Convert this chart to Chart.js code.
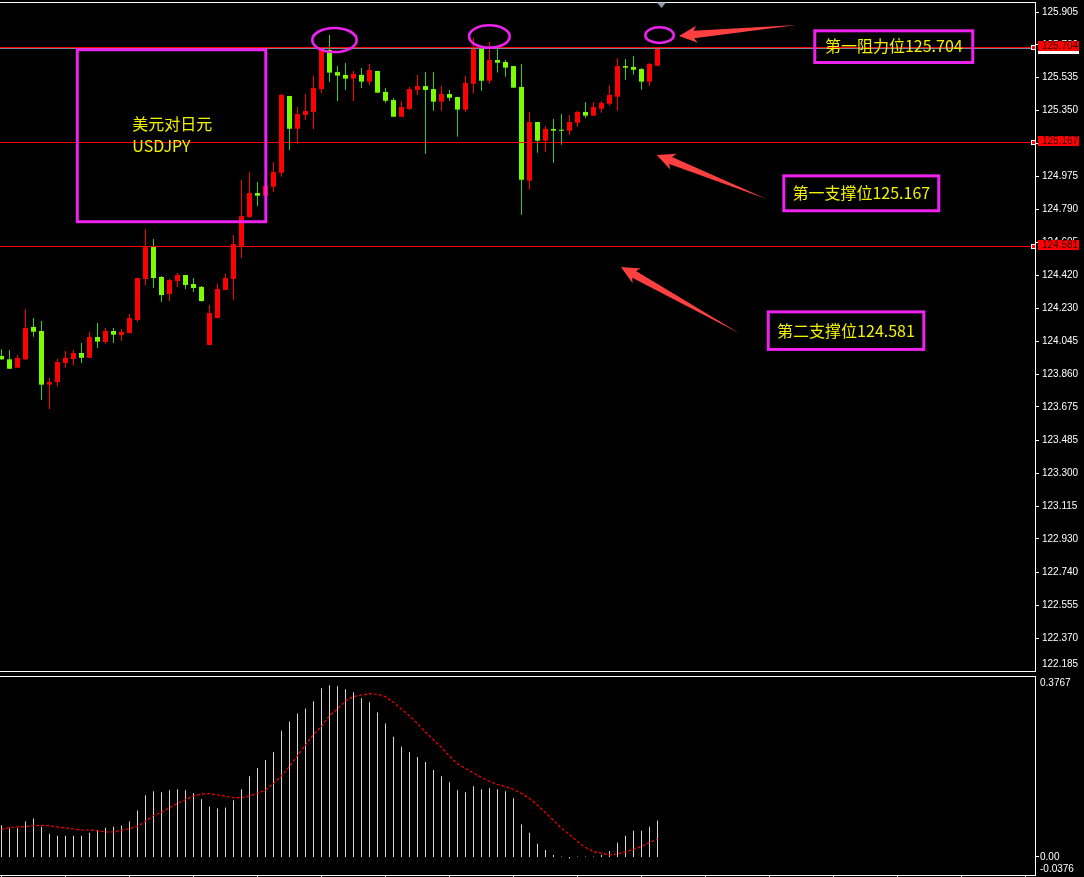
<!DOCTYPE html>
<html><head><meta charset="utf-8">
<script src="https://cdn.jsdelivr.net/npm/chart.js@4.4.0/dist/chart.umd.min.js"></script>
<style>
html,body{margin:0;padding:0;background:#000;overflow:hidden;}
#wrap{position:relative;width:1084px;height:877px;background:#000;}
#main{position:absolute;left:0;top:0;}
#sub{position:absolute;left:0;top:672px;}
</style></head><body>
<div id="wrap">
<canvas id="main" width="1084" height="672"></canvas>
<canvas id="sub" width="1084" height="205"></canvas>
</div>
<script>
// ---------------- data ----------------
const opens  = [123.963,123.944,123.897,123.944,124.127,124.104,123.801,123.816,123.923,123.946,123.980,123.953,124.070,124.042,124.104,124.081,124.093,124.166,124.398,124.578,124.409,124.313,124.386,124.420,124.369,124.353,124.025,124.177,124.336,124.398,124.584,124.748,124.883,124.868,124.919,124.998,125.431,125.246,125.324,125.341,125.470,125.691,125.566,125.550,125.529,125.550,125.512,125.572,125.454,125.408,125.314,125.358,125.465,125.487,125.470,125.399,125.442,125.425,125.354,125.500,125.702,125.517,125.634,125.623,125.600,125.482,124.953,125.284,125.179,125.245,125.239,125.235,125.280,125.341,125.320,125.359,125.387,125.427,125.600,125.595,125.583,125.512,125.602];
const highs  = [124.001,123.997,123.969,124.228,124.177,124.161,123.839,123.946,123.991,123.997,124.036,124.098,124.149,124.121,124.121,124.115,124.200,124.405,124.680,124.623,124.415,124.398,124.432,124.422,124.403,124.358,124.251,124.369,124.426,124.646,124.957,125.002,124.945,124.957,125.058,125.442,125.433,125.369,125.442,125.544,125.704,125.775,125.600,125.617,125.572,125.589,125.612,125.574,125.476,125.420,125.403,125.482,125.550,125.566,125.566,125.487,125.465,125.427,125.544,125.758,125.704,125.736,125.702,125.634,125.602,125.612,125.341,125.286,125.262,125.301,125.329,125.324,125.346,125.397,125.397,125.403,125.493,125.646,125.640,125.657,125.589,125.617,125.704];
const lows   = [123.940,123.889,123.895,123.940,124.072,123.714,123.664,123.790,123.897,123.908,123.923,123.952,124.008,124.032,124.036,124.048,124.091,124.155,124.364,124.347,124.268,124.273,124.353,124.341,124.324,124.271,124.023,124.175,124.334,124.279,124.516,124.742,124.810,124.861,124.889,124.975,125.126,125.162,125.295,125.245,125.448,125.510,125.403,125.465,125.403,125.476,125.493,125.448,125.393,125.312,125.312,125.352,125.437,125.103,125.348,125.348,125.404,125.201,125.342,125.444,125.461,125.500,125.563,125.540,125.476,124.761,124.902,125.111,125.116,125.054,125.156,125.212,125.258,125.308,125.318,125.337,125.376,125.348,125.523,125.551,125.466,125.489,125.600];
const closes = [123.944,123.891,123.952,124.121,124.100,123.801,123.816,123.929,123.952,123.980,123.953,124.070,124.044,124.104,124.083,124.098,124.177,124.403,124.578,124.403,124.307,124.392,124.420,124.364,124.347,124.273,124.206,124.341,124.403,124.595,124.753,124.883,124.868,124.924,125.002,125.437,125.246,125.329,125.346,125.476,125.702,125.563,125.546,125.529,125.555,125.512,125.578,125.450,125.404,125.314,125.369,125.470,125.487,125.465,125.399,125.442,125.421,125.354,125.504,125.708,125.517,125.634,125.619,125.591,125.478,124.958,125.284,125.179,125.245,125.235,125.235,125.284,125.341,125.320,125.369,125.391,125.437,125.600,125.591,125.579,125.512,125.612,125.698];

const macdHist = [0.0658,0.0595,0.0595,0.0736,0.0799,0.0631,0.0484,0.0442,0.0442,0.0442,0.0442,0.0505,0.0547,0.0610,0.0631,0.0652,0.0736,0.0967,0.1283,0.1367,0.1346,0.1388,0.1409,0.1388,0.1325,0.1199,0.1052,0.1009,0.1030,0.1178,0.1409,0.1682,0.1851,0.2019,0.2187,0.2629,0.2818,0.2986,0.3091,0.3239,0.3512,0.3575,0.3554,0.3491,0.3428,0.3302,0.3218,0.3007,0.2776,0.2503,0.2292,0.2187,0.2082,0.1977,0.1809,0.1682,0.1556,0.1388,0.1346,0.1472,0.1409,0.1430,0.1409,0.1367,0.1220,0.0673,0.0505,0.0273,0.0147,0.0042,0.0010,-0.0030,0.0010,0.0010,0.0010,0.0040,0.0126,0.0294,0.0442,0.0547,0.0547,0.0631,0.0757];
const macdSignal = [0.0574,0.0610,0.0624,0.0631,0.0652,0.0658,0.0645,0.0624,0.0603,0.0582,0.0561,0.0561,0.0547,0.0519,0.0519,0.0554,0.0589,0.0638,0.0743,0.0862,0.0932,0.1024,0.1115,0.1192,0.1269,0.1311,0.1318,0.1290,0.1262,0.1234,0.1234,0.1269,0.1325,0.1395,0.1529,0.1689,0.1886,0.2109,0.2334,0.2545,0.2719,0.2938,0.3084,0.3245,0.3337,0.3371,0.3401,0.3386,0.3337,0.3218,0.3077,0.2938,0.2776,0.2601,0.2440,0.2278,0.2097,0.1935,0.1844,0.1746,0.1655,0.1571,0.1508,0.1466,0.1409,0.1318,0.1220,0.1079,0.0919,0.0763,0.0595,0.0463,0.0322,0.0196,0.0111,0.0078,0.0042,0.0063,0.0105,0.0154,0.0217,0.0301,0.0372];

const priceTicks = [125.905,125.720,125.535,125.350,125.165,124.975,124.790,124.605,124.420,124.230,124.045,123.860,123.675,123.485,123.300,123.115,122.930,122.740,122.555,122.370,122.185];
const levelPrices = [125.704,125.167,124.581];
const levelTexts = ['第一阻力位125.704','第一支撑位125.167','第二支撑位124.581'];
const pairTitle = ['美元对日元','USDJPY'];
const subTicks = [0.3767,0,-0.0376];
const subTickLabels = ['0.3767','0.00','-0.0376'];

// ---------------- view ranges & annotation anchors (data units) ----------------
const X_MIN = -0.1875, X_MAX = 129.3125;
const Y_MIN = 122.1786, Y_MAX = 125.9617;
const SUB_MIN = -0.0376, SUB_MAX = 0.3767;

const titleBox = {k1:9.475, k2:33.04, p1:125.692, p2:124.721};
const titleAnchors = [{k:16.35, p:125.2717},{k:16.35, p:125.1486}];
const levelBoxes = [
  {k1:101.66,k2:121.41,p1:125.799,p2:125.620,tk:111.54,tp:125.712},
  {k1:97.79, k2:117.16,p1:124.980,p2:124.783,tk:107.48,tp:124.882},
  {k1:95.84, k2:115.29,p1:124.212,p2:124.000,tk:105.56,tp:124.106}
];
const ellipses = [
  {k1:38.85,k2:44.40,p1:125.815,p2:125.679},
  {k1:58.44,k2:63.53,p1:125.830,p2:125.704},
  {k1:80.48,k2:84.03,p1:125.819,p2:125.730}
];
const arrows = [
  {tk:84.69,tp:125.770,sk:99.40,sp:125.832},
  {tk:81.90,tp:125.098,sk:95.65,sp:124.849},
  {tk:77.44,tp:124.465,sk:92.23,sp:124.091}
];

// ---------------- styles ----------------
const UP = '#ff0000', DOWN_BODY = '#7cfc00', DOWN_WICK = '#32cd32';
const MAGENTA = '#ee22ee', YELLOW = '#f2f200', ARROW = '#ff4040';
const AXIS_FONT = '10px "Liberation Sans", Arial, sans-serif';
const CJK_FONT = '16px "Noto Sans CJK SC", "Noto Sans", sans-serif';

const crisp = v => Math.floor(v) + 0.5;
function seg(ctx,x1,y1,x2,y2){ctx.beginPath();ctx.moveTo(x1,y1);ctx.lineTo(x2,y2);ctx.stroke();}
function drawArrow(ctx,tx,ty,sx,sy){
  const dx=sx-tx, dy=sy-ty, L=Math.hypot(dx,dy), ux=dx/L, uy=dy/L, nx=-uy, ny=ux;
  const P=(u,v)=>[tx+ux*u+nx*v, ty+uy*u+ny*v];
  const pts=[P(0,0),P(18,-8.5),P(15,-3.8),P(L,0),P(15,3.8),P(18,8.5)];
  ctx.beginPath(); pts.forEach((p,i)=> i?ctx.lineTo(p[0],p[1]):ctx.moveTo(p[0],p[1])); ctx.closePath(); ctx.fill();
}

const isUp = i => closes[i] >= opens[i];
const idx = opens.map((_,i)=>i);
const wickData = idx.map(i=>({x:i, y:[lows[i], highs[i]]}));
const bodyData = idx.map(i=>({x:i, y:[Math.min(opens[i],closes[i]), Math.max(opens[i],closes[i])]}));
const wickColors = idx.map(i=> isUp(i)?UP:DOWN_WICK);
const bodyColors = idx.map(i=> isUp(i)?UP:DOWN_BODY);

const mainDeco = {
  id:'mainDeco',
  afterDatasetsDraw(chart){
    const {ctx, chartArea:a, scales:{x,y}} = chart;
    ctx.save();
    ctx.lineWidth = 1;
    ctx.strokeStyle = '#778899';
    const by = crisp(y.getPixelForValue(closes[closes.length-1]));
    seg(ctx,a.left,by,a.right,by);
    ctx.strokeStyle = '#ff0000';
    levelPrices.forEach(p=>{const ly=crisp(y.getPixelForValue(p)); seg(ctx,a.left,ly,a.right,ly);});

    ctx.strokeStyle = MAGENTA; ctx.lineWidth = 3;
    const rb = b => {const x1=x.getPixelForValue(b.k1), x2=x.getPixelForValue(b.k2), y1=y.getPixelForValue(b.p1), y2=y.getPixelForValue(b.p2); ctx.strokeRect(x1,y1,x2-x1,y2-y1);};
    rb(titleBox);
    levelBoxes.forEach(rb);
    ctx.fillStyle = YELLOW; ctx.font = CJK_FONT; ctx.textBaseline='middle';
    ctx.textAlign='left';
    pairTitle.forEach((t,i)=>ctx.fillText(t, x.getPixelForValue(titleAnchors[i].k), y.getPixelForValue(titleAnchors[i].p)));
    ctx.textAlign='center';
    levelBoxes.forEach((b,i)=>ctx.fillText(levelTexts[i], x.getPixelForValue(b.tk), y.getPixelForValue(b.tp)));

    ctx.lineWidth = 2.6; ctx.strokeStyle = MAGENTA;
    ellipses.forEach(e=>{
      const x1=x.getPixelForValue(e.k1), x2=x.getPixelForValue(e.k2), y1=y.getPixelForValue(e.p1), y2=y.getPixelForValue(e.p2);
      ctx.beginPath(); ctx.ellipse((x1+x2)/2,(y1+y2)/2,(x2-x1)/2,(y2-y1)/2,0,0,Math.PI*2); ctx.stroke();
    });
    ctx.fillStyle = ARROW;
    arrows.forEach(r=>drawArrow(ctx, x.getPixelForValue(r.tk), y.getPixelForValue(r.tp), x.getPixelForValue(r.sk), y.getPixelForValue(r.sp)));
    ctx.restore();
  },
  afterDraw(chart){
    const {ctx, chartArea:a, scales:{x,y}} = chart;
    ctx.save();
    ctx.strokeStyle='#ffffff'; ctx.lineWidth=1;
    seg(ctx,0,a.top+0.5,a.right,a.top+0.5);
    seg(ctx,0,a.bottom-0.5,a.right,a.bottom-0.5);
    seg(ctx,a.right-0.5,a.top,a.right-0.5,a.bottom);
    ctx.font = AXIS_FONT; ctx.textBaseline='middle'; ctx.textAlign='left'; ctx.fillStyle='#ffffff';
    priceTicks.forEach(v=>{
      const py = y.getPixelForValue(v);
      const ty = crisp(py);
      if (ty < a.bottom-2) seg(ctx,a.right,ty,a.right+3,ty);
      const ly = Math.min(py, a.bottom-8);
      ctx.fillText(v.toFixed(3), a.right+6, ly);
    });
    const bidY = y.getPixelForValue(closes[closes.length-1]);
    ctx.fillStyle='#ffffff';
    ctx.fillRect(a.right+2, Math.round(bidY)-4, 41, 9);
    levelPrices.forEach(p=>{
      const ly = y.getPixelForValue(p);
      const top = Math.round(ly-1.5-5);
      ctx.fillStyle='#ff0000'; ctx.fillRect(a.right+2, top, 41, 10);
      ctx.fillStyle='#300000'; ctx.fillText(p.toFixed(3), a.right+6, top+5);
      const sy = Math.floor(ly);
      ctx.fillStyle='#ffffff'; ctx.fillRect(a.right-5, sy-2, 5, 5);
      ctx.fillStyle='#ff0000'; ctx.fillRect(a.right-4, sy-1, 3, 3);
    });
    const mx = x.getPixelForValue(closes.length-0.5);
    ctx.fillStyle='#8a9aaa';
    ctx.beginPath(); ctx.moveTo(mx-4.5,a.top+0.5); ctx.lineTo(mx+4.5,a.top+0.5); ctx.lineTo(mx,a.top+6); ctx.closePath(); ctx.fill();
    ctx.restore();
  }
};

new Chart(document.getElementById('main'), {
  type:'bar',
  data:{datasets:[
    {data:wickData, backgroundColor:wickColors, barThickness:1, grouped:false, inflateAmount:0, borderWidth:0, order:2},
    {data:bodyData, backgroundColor:bodyColors, barThickness:5, grouped:false, inflateAmount:0, borderWidth:0, minBarLength:1, order:1}
  ]},
  options:{
    responsive:false, animation:false, events:[],
    layout:{padding:{top:2,left:0,right:0,bottom:0}},
    plugins:{legend:{display:false}, tooltip:{enabled:false}},
    scales:{
      x:{type:'linear', min:X_MIN, max:X_MAX, display:false, offset:false},
      y:{position:'right', min:Y_MIN, max:Y_MAX, grid:{display:false}, border:{display:false},
         ticks:{display:false}, afterFit(s){s.width=48;},
         afterBuildTicks(s){s.ticks = priceTicks.map(v=>({value:v}));}}
    }
  },
  plugins:[mainDeco]
});

const subDeco = {
  id:'subDeco',
  afterDraw(chart){
    const {ctx, chartArea:a, scales:{x,y}} = chart;
    ctx.save();
    ctx.strokeStyle='#ffffff'; ctx.lineWidth=1;
    seg(ctx,0,a.top+0.5,a.right,a.top+0.5);
    seg(ctx,0,a.bottom+0.5,a.right,a.bottom+0.5);
    seg(ctx,a.right-0.5,a.top,a.right-0.5,a.bottom+1);
    for(let k=0;k<=X_MAX;k+=8){const xx=crisp(x.getPixelForValue(k)); seg(ctx,xx,a.bottom+1,xx,a.bottom+3);}
    const zy = crisp(y.getPixelForValue(0)); seg(ctx,a.right,zy,a.right+3,zy);
    ctx.font=AXIS_FONT; ctx.fillStyle='#ffffff'; ctx.textBaseline='middle'; ctx.textAlign='left';
    const offs=[7,0,-6];
    subTicks.forEach((v,i)=>ctx.fillText(subTickLabels[i], a.right+4, y.getPixelForValue(v)+offs[i]));
    ctx.restore();
  }
};

new Chart(document.getElementById('sub'), {
  type:'bar',
  data:{datasets:[
    {type:'line', data:idx.map(i=>({x:i,y:macdSignal[i]})), borderColor:'#ff0000', borderWidth:1.2, borderDash:[3,2], pointRadius:0, tension:0, order:1},
    {data:idx.map(i=>({x:i,y:macdHist[i]})), backgroundColor:'#d6d6d6', barThickness:1, grouped:false, inflateAmount:0, borderWidth:0, order:2}
  ]},
  options:{
    responsive:false, animation:false, events:[],
    layout:{padding:{top:4,left:0,right:0,bottom:2}},
    plugins:{legend:{display:false}, tooltip:{enabled:false}},
    scales:{
      x:{type:'linear', min:X_MIN, max:X_MAX, display:false, offset:false},
      y:{position:'right', min:SUB_MIN, max:SUB_MAX, grid:{display:false}, border:{display:false},
         ticks:{display:false}, afterFit(s){s.width=48;},
         afterBuildTicks(s){s.ticks = subTicks.map(v=>({value:v}));}}
    }
  },
  plugins:[subDeco]
});
</script>
</body></html>
